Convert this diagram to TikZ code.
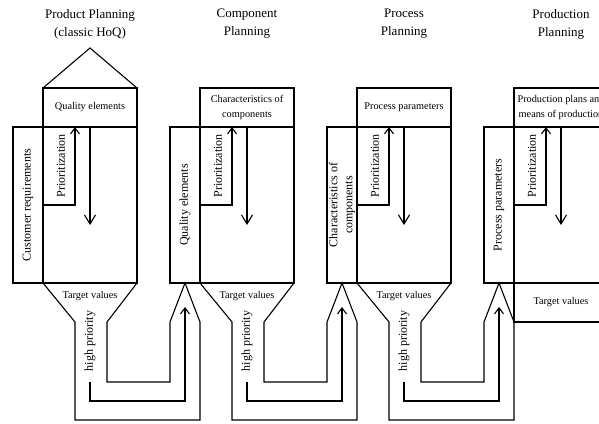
\documentclass[tikz,border=0pt]{standalone}
\usepackage{fontspec}
\setmainfont{Liberation Serif}
\usetikzlibrary{arrows.meta}
\tikzset{
  cell/.style={draw, line width=1.1pt, inner sep=0pt, outer sep=0pt, align=center,
    font=\fontsize{10.3}{15}\selectfont},
  hdrbox/.style={cell, minimum width=94pt, minimum height=39pt},
  matbox/.style={cell, minimum width=94pt, minimum height=156pt},
  colbox/.style={cell, minimum width=30pt, minimum height=156pt},
  pribox/.style={cell, minimum width=32pt, minimum height=78pt},
  hlabel/.style={inner sep=1pt, font=\fontsize{10.3}{15}\selectfont},
  vlabel/.style={rotate=90, inner sep=1pt, align=center, font=\fontsize{12}{15}\selectfont},
  heading/.style={align=center, font=\fontsize{13}{18}\selectfont},
  frame/.style={line width=1.1pt, line join=miter},
  prio/.style={line width=1.1pt, -{Straight Barb[length=6pt,width=9pt]}},
  down/.style={line width=1.1pt, -{Straight Barb[length=9pt,width=11pt]}},
}
\begin{document}
\begin{tikzpicture}[x=1pt,y=-1pt]
  \useasboundingbox (0,0) rectangle (599,423);
  % headings
  \node[heading] (t1) at (90,24) {Product Planning\\(classic HoQ)};
  \node[heading] (t2) at (247,24) {Component\\Planning};
  \node[heading] (t3) at (404,24) {Process\\Planning};
  \node[heading] (t4) at (561,24) {Production\\Planning};

  % product planning
  \node[hdrbox] (hdr1) at (90,107.5) {Quality elements};
  \coordinate (roof) at (90,48);
  \draw[frame] (hdr1.north west) -- (roof) -- (hdr1.north east);
  \node[matbox] (mat1) at (90,205) {};
  \node[colbox] (col1) at (28,205) {};
  \node[pribox] (pri1) at (59,166) {};
  \node[vlabel] (cr1) at (col1) {Customer requirements};
  \node[vlabel] (pl1) at (61,166) {Prioritization};
  \coordinate (tip1) at (90,225);
  \draw[prio] (pri1.south east) -- (pri1.north east);
  \draw[down] (mat1.north) -- (tip1);

  % component planning
  \node[hdrbox] (hdr2) at (247,107.5) {Characteristics of\\components};
  \node[matbox] (mat2) at (247,205) {};
  \node[colbox] (col2) at (185,205) {};
  \node[pribox] (pri2) at (216,166) {};
  \node[vlabel] (cr2) at (col2) {Quality elements};
  \node[vlabel] (pl2) at (218,166) {Prioritization};
  \coordinate (tip2) at (247,225);
  \draw[prio] (pri2.south east) -- (pri2.north east);
  \draw[down] (mat2.north) -- (tip2);

  % process planning
  \node[hdrbox] (hdr3) at (404,107.5) {Process parameters};
  \node[matbox] (mat3) at (404,205) {};
  \node[colbox] (col3) at (342,205) {};
  \node[pribox] (pri3) at (373,166) {};
  \node[vlabel] (cr3) at (col3) {Characteristics of\\components};
  \node[vlabel] (pl3) at (375,166) {Prioritization};
  \coordinate (tip3) at (404,225);
  \draw[prio] (pri3.south east) -- (pri3.north east);
  \draw[down] (mat3.north) -- (tip3);

  % production planning
  \node[hdrbox] (hdr4) at (561,107.5) {Production plans and\\means of production};
  \node[matbox] (mat4) at (561,205) {};
  \node[colbox] (col4) at (499,205) {};
  \node[pribox] (pri4) at (530,166) {};
  \node[hdrbox] (tv4) at (561,302.5) {Target values};
  \node[vlabel] (cr4) at (col4) {Process parameters};
  \node[vlabel] (pl4) at (532,166) {Prioritization};
  \coordinate (tip4) at (561,225);
  \draw[prio] (pri4.south east) -- (pri4.north east);
  \draw[down] (mat4.north) -- (tip4);

  % funnels
  \draw[frame] (mat1.south west) -- (75,322) -- (75,420) -- (200,420) -- (200,322)
    -- (col2.south) -- (170,322) -- (170,382) -- (107,382) -- (107,322) -- (mat1.south east);
  \draw[frame] (mat2.south west) -- (232,322) -- (232,420) -- (357,420) -- (357,322)
    -- (col3.south) -- (327,322) -- (327,382) -- (264,382) -- (264,322) -- (mat2.south east);
  \draw[frame] (mat3.south west) -- (389,322) -- (389,420) -- (514,420) -- (514,322)
    -- (col4.south) -- (484,322) -- (484,382) -- (421,382) -- (421,322) -- (mat3.south east);
  \node[hlabel] (tv1) at (90,296) {Target values};
  \node[hlabel] (tv2) at (247,296) {Target values};
  \node[hlabel] (tv3) at (404,296) {Target values};

  % high priority
  \node[vlabel] (hp1) at (90,341) {high priority};
  \node[vlabel] (hp2) at (247,341) {high priority};
  \node[vlabel] (hp3) at (404,341) {high priority};
  \coordinate (s1) at (90,382);
  \coordinate (s2) at (247,382);
  \coordinate (s3) at (404,382);
  \coordinate (e1) at (185,307);
  \coordinate (e2) at (342,307);
  \coordinate (e3) at (499,307);
  \draw[prio] (s1) -- ++(0,19) -| (e1);
  \draw[prio] (s2) -- ++(0,19) -| (e2);
  \draw[prio] (s3) -- ++(0,19) -| (e3);
\end{tikzpicture}
\end{document}
